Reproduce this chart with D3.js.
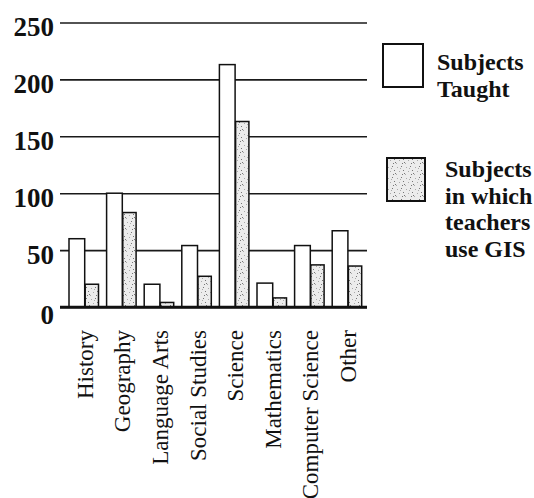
<!DOCTYPE html>
<html>
<head>
<meta charset="utf-8">
<script src="https://cdn.jsdelivr.net/npm/d3@7"></script>
<style>
  html, body { margin: 0; padding: 0; background: #fff; }
  svg { display: block; }
</style>
</head>
<body>
<svg id="chart" width="534" height="498"></svg>
<script>
const categories = ["History", "Geography", "Language Arts", "Social Studies", "Science", "Mathematics", "Computer Science", "Other"];
const subjectsTaught = [60, 100, 20, 54, 213, 21, 54, 67];
const subjectsGIS = [20, 83, 4, 27, 163, 8, 37, 36];
const yTicks = [0, 50, 100, 150, 200, 250];
const legendTaught = ["Subjects", "Taught"];
const legendGIS = ["Subjects", "in which", "teachers", "use GIS"];

const svg = d3.select("#chart");
const serif = "'Liberation Serif', 'Times New Roman', serif";

// speckled pattern for GIS bars
const defs = svg.append("defs");
const pat = defs.append("pattern")
  .attr("id", "speckle").attr("patternUnits", "userSpaceOnUse")
  .attr("width", 9).attr("height", 11);
pat.append("rect").attr("width", 9).attr("height", 11).attr("fill", "#ececec");
[[1,2],[5,1],[3,6],[7,5],[0,9],[6,9],[4,3],[8,8]].forEach(([x, y], i) => {
  pat.append("rect").attr("x", x).attr("y", y).attr("width", 1).attr("height", 1)
    .attr("fill", i % 2 ? "#777" : "#aaa");
});

const y = d3.scaleLinear().domain([0, 250]).range([307, 22.5]);
const x = d3.scaleBand().domain(categories).range([64, 364.8]).paddingInner(0).paddingOuter(0);

// gridlines + tick labels via axis
const yAxis = d3.axisLeft(y).tickValues(yTicks).tickSize(-307).tickPadding(6).tickFormat(d3.format("d"));
const gAxis = svg.append("g").attr("transform", "translate(60,0)").call(yAxis);
gAxis.select(".domain").remove();
gAxis.selectAll(".tick line")
  .attr("stroke", "#1a1a1a")
  .attr("stroke-width", d => d === 0 ? 2.6 : 1.6);
gAxis.selectAll(".tick text")
  .attr("font-family", serif)
  .attr("font-weight", "bold")
  .attr("font-size", 27)
  .attr("fill", "#111")
  .attr("x", -6)
  .attr("dy", d => d === 0 ? "0.62em" : "0.48em");

// bars
const groups = svg.append("g").selectAll("g")
  .data(categories).join("g");

groups.append("rect")
  .attr("x", d => x(d) + 5)
  .attr("width", 15.7)
  .attr("y", (d, i) => y(subjectsTaught[i]))
  .attr("height", (d, i) => y(0) - y(subjectsTaught[i]))
  .attr("fill", "#fff")
  .attr("stroke", "#111")
  .attr("stroke-width", 1.5);

groups.append("rect")
  .attr("x", d => x(d) + 21.2)
  .attr("width", 13.3)
  .attr("y", (d, i) => y(subjectsGIS[i]))
  .attr("height", (d, i) => y(0) - y(subjectsGIS[i]))
  .attr("fill", "url(#speckle)")
  .attr("stroke", "#111")
  .attr("stroke-width", 1.5);

// redraw baseline on top
svg.append("line")
  .attr("x1", 60).attr("x2", 367)
  .attr("y1", y(0)).attr("y2", y(0))
  .attr("stroke", "#111").attr("stroke-width", 2.6);

// x labels, rotated
const xAxis = d3.axisBottom(x).tickSize(0).tickPadding(0);
const gx = svg.append("g").attr("transform", "translate(2,330)").call(xAxis);
gx.select(".domain").remove();
gx.selectAll(".tick text")
  .attr("font-family", serif)
  .attr("font-size", 23)
  .attr("fill", "#111")
  .attr("transform", "rotate(-90)")
  .attr("text-anchor", "end")
  .attr("x", 0)
  .attr("y", 0)
  .attr("dy", "0.35em");

// legend
const leg = svg.append("g");
leg.append("rect").attr("x", 383).attr("y", 44).attr("width", 40).attr("height", 43)
  .attr("fill", "#fff").attr("stroke", "#111").attr("stroke-width", 2);
leg.append("text").attr("font-family", serif).attr("font-weight", "bold").attr("font-size", 24).attr("fill", "#111")
  .selectAll("tspan").data(legendTaught).join("tspan")
  .attr("x", 437).attr("y", (d, i) => 70 + i * 27).text(d => d);

leg.append("rect").attr("x", 387).attr("y", 158).attr("width", 38).attr("height", 43)
  .attr("fill", "url(#speckle)").attr("stroke", "#111").attr("stroke-width", 2);
leg.append("text").attr("font-family", serif).attr("font-weight", "bold").attr("font-size", 24).attr("fill", "#111")
  .selectAll("tspan").data(legendGIS).join("tspan")
  .attr("x", 445).attr("y", (d, i) => 177 + i * 26.7).text(d => d);
</script>
</body>
</html>
